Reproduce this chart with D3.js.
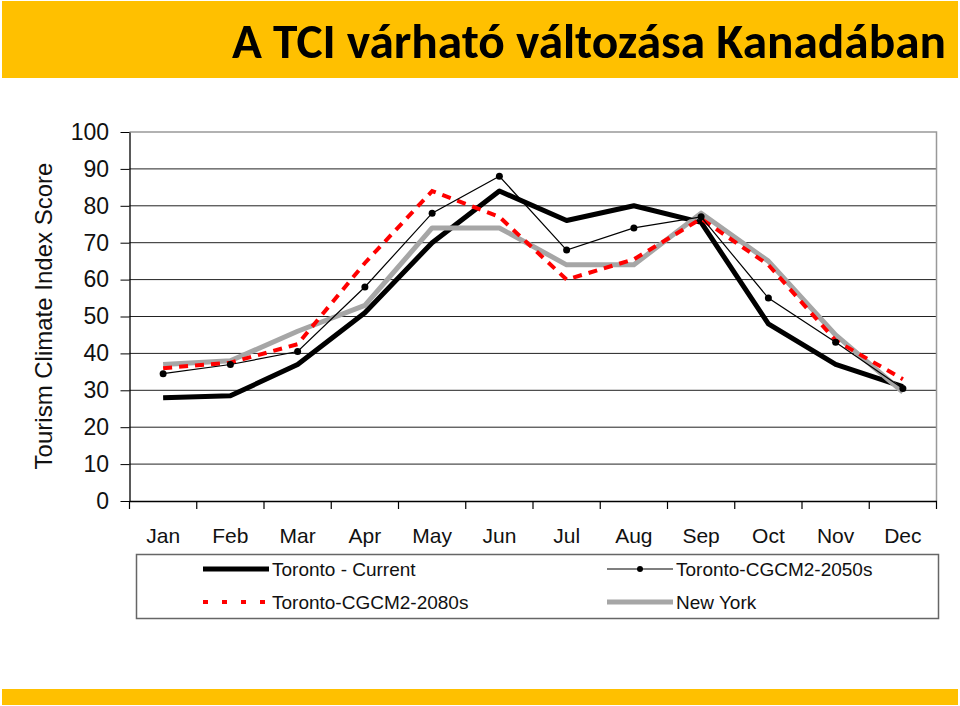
<!DOCTYPE html>
<html>
<head>
<meta charset="utf-8">
<script src="https://cdn.jsdelivr.net/npm/d3@7"></script>
<style>
  html, body { margin: 0; padding: 0; background: #fff; }
  svg { display: block; font-family: "Liberation Sans", Arial, sans-serif; }
</style>
</head>
<body>
<div id="chart"></div>
<script>
// TCI chart - Toronto vs New York
const months = ["Jan", "Feb", "Mar", "Apr", "May", "Jun", "Jul", "Aug", "Sep", "Oct", "Nov", "Dec"];
const torontoCurrent = [28, 28.5, 37, 51, 70, 84, 76, 80, 75.5, 48, 37, 31];
const toronto2050s = [34.5, 37, 40.5, 58, 78, 88, 68, 74, 77, 55, 43, 30.5];
const toronto2080s = [36, 37.5, 42.5, 64.5, 84, 77, 60, 65.5, 76.5, 64, 43.5, 33];
const newYork = [37, 38, 46, 53, 74, 74, 64, 64, 78, 65, 45, 29.5];
const yTicks = [0, 10, 20, 30, 40, 50, 60, 70, 80, 90, 100];

const W = 960, H = 706;
const svg = d3.select("#chart").append("svg")
    .attr("width", W)
    .attr("height", H);

//--------------------------------------------------
// Title bars
//--------------------------------------------------
svg.append("rect")
    .attr("x", 2).attr("y", 1)
    .attr("width", 956).attr("height", 77)
    .attr("fill", "#FFC000");

svg.append("text")
    .attr("x", 946)
    .attr("y", 58)
    .attr("text-anchor", "end")
    .attr("font-family", "Carlito, 'Liberation Sans Narrow', 'DejaVu Sans Condensed', sans-serif")
    .attr("font-weight", "bold")
    .attr("font-size", "48px")
    .attr("textLength", 714)
    .attr("lengthAdjust", "spacingAndGlyphs")
    .attr("fill", "#000")
    .text("A TCI várható változása Kanadában");

svg.append("rect")
    .attr("x", 2).attr("y", 689)
    .attr("width", 956).attr("height", 16)
    .attr("fill", "#FFC000");

//--------------------------------------------------
// Scales
//--------------------------------------------------
const x = d3.scaleBand()
    .domain(months)
    .range([129.5, 936.5])
    .padding(0);

const y = d3.scaleLinear()
    .domain([0, 100])
    .range([501, 132]);

const cx = m => x(m) + x.bandwidth() / 2;

// gridlines
svg.append("g")
    .selectAll("line")
    .data(yTicks.filter(d => d > 0 && d < 100))
    .join("line")
    .attr("x1", x.range()[0])
    .attr("x2", x.range()[1])
    .attr("y1", d => y(d))
    .attr("y2", d => y(d))
    .attr("stroke", "#222")
    .attr("stroke-width", 1);

// plot border (top/right)
svg.append("path")
    .attr("d", `M${x.range()[0]},${y(100)}H${x.range()[1]}V${y(0)}`)
    .attr("fill", "none")
    .attr("stroke", "#999")
    .attr("stroke-width", 1.5);

// y axis
const yAxis = svg.append("g")
    .attr("transform", `translate(${x.range()[0]},0)`)
    .call(d3.axisLeft(y).tickValues(yTicks).tickSize(9).tickPadding(11.5).tickSizeOuter(0));
yAxis.select(".domain").attr("stroke", "#000").attr("stroke-width", 1.3);
yAxis.selectAll(".tick line").attr("stroke", "#000");
yAxis.selectAll("text")
    .attr("font-size", "23px")
    .attr("font-family", "'Liberation Sans', Arial, sans-serif")
    .attr("fill", "#111");

// x axis
const xAxis = svg.append("g")
    .attr("transform", `translate(0,${y(0)})`)
    .call(d3.axisBottom(x).tickSize(0).tickPadding(27).tickSizeOuter(0));
xAxis.select(".domain").attr("stroke", "#000").attr("stroke-width", 1.3);
xAxis.selectAll("text")
    .attr("font-size", "21px")
    .attr("font-family", "'Liberation Sans', Arial, sans-serif")
    .attr("fill", "#111");

// boundary ticks between months
xAxis.append("g")
    .selectAll("line")
    .data(d3.range(months.length + 1))
    .join("line")
    .attr("x1", i => x.range()[0] + i * x.step())
    .attr("x2", i => x.range()[0] + i * x.step())
    .attr("y1", 0)
    .attr("y2", 8)
    .attr("stroke", "#000")
    .attr("stroke-width", 1.2);

// y axis title
svg.append("text")
    .attr("transform", "rotate(-90)")
    .attr("x", -316)
    .attr("y", 52)
    .attr("text-anchor", "middle")
    .attr("font-size", "24px")
    .attr("fill", "#111")
    .text("Tourism Climate Index Score");

//--------------------------------------------------
// Lines
//--------------------------------------------------
const line = d3.line()
    .x((d, i) => cx(months[i]))
    .y(d => y(d));

svg.append("path")
    .datum(torontoCurrent)
    .attr("fill", "none")
    .attr("stroke", "#000")
    .attr("stroke-width", 5)
    .attr("stroke-linejoin", "round")
    .attr("d", line);

svg.append("path")
    .datum(newYork)
    .attr("fill", "none")
    .attr("stroke", "#a6a6a6")
    .attr("stroke-width", 5)
    .attr("stroke-linejoin", "round")
    .attr("d", line);

svg.append("path")
    .datum(toronto2080s)
    .attr("fill", "none")
    .attr("stroke", "#ff0000")
    .attr("stroke-width", 4)
    .attr("stroke-dasharray", "9,7")
    .attr("d", line);

svg.append("path")
    .datum(toronto2050s)
    .attr("fill", "none")
    .attr("stroke", "#000")
    .attr("stroke-width", 1.2)
    .attr("d", line);

svg.append("g")
    .selectAll("circle")
    .data(toronto2050s)
    .join("circle")
    .attr("cx", (d, i) => cx(months[i]))
    .attr("cy", d => y(d))
    .attr("r", 3.5)
    .attr("fill", "#000");

//--------------------------------------------------
// Legend
//--------------------------------------------------
const legend = svg.append("g");

legend.append("rect")
    .attr("x", 136.5).attr("y", 554.5)
    .attr("width", 802).attr("height", 64)
    .attr("fill", "#fff")
    .attr("stroke", "#666")
    .attr("stroke-width", 1.5);

const legendItems = [
    { name: "Toronto - Current", x: 203, y: 569, stroke: "#000", width: 5, dash: null, dot: false },
    { name: "Toronto-CGCM2-2050s", x: 607, y: 569, stroke: "#000", width: 1.2, dash: null, dot: true },
    { name: "Toronto-CGCM2-2080s", x: 203, y: 602, stroke: "#ff0000", width: 4, dash: "5,14", dot: false },
    { name: "New York", x: 607, y: 602, stroke: "#a6a6a6", width: 5, dash: null, dot: false }
];

legendItems.forEach(d => {
    legend.append("line")
        .attr("x1", d.x).attr("x2", d.x + 66)
        .attr("y1", d.y).attr("y2", d.y)
        .attr("stroke", d.stroke)
        .attr("stroke-width", d.width)
        .attr("stroke-dasharray", d.dash);
    if (d.dot) {
        legend.append("circle")
            .attr("cx", d.x + 33).attr("cy", d.y)
            .attr("r", 3).attr("fill", "#000");
    }
    legend.append("text")
        .attr("x", d.x + 69)
        .attr("y", d.y + 7)
        .attr("font-size", "19px")
        .attr("fill", "#111")
        .text(d.name);
});
</script>
</body>
</html>
